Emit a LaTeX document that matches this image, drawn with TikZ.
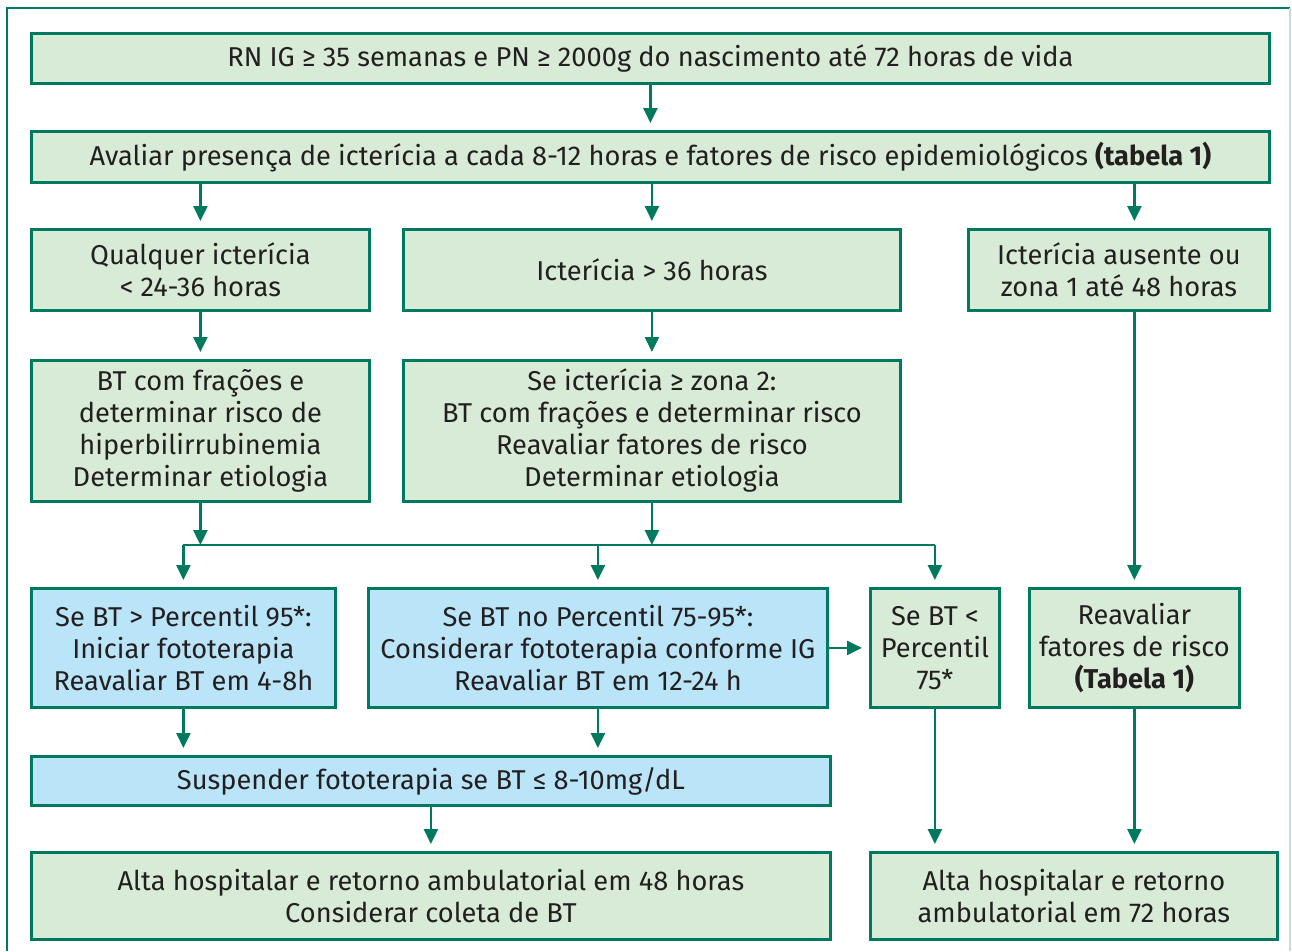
\documentclass[tikz,border=0pt]{standalone}
\usepackage{fontspec}
\setmainfont{Fira Sans}
\usepackage{xcolor}
\usetikzlibrary{calc, positioning, arrows.meta}
\definecolor{flowgreen}{RGB}{0,122,94}
\definecolor{boxgreen}{RGB}{216,235,214}
\definecolor{boxblue}{RGB}{186,228,248}
\definecolor{textgray}{RGB}{35,31,32}
\definecolor{framegray}{RGB}{200,220,212}
\tikzset{
    greenbox/.style={rectangle, draw=flowgreen, line width=1.6pt, fill=boxgreen, align=center, text=textgray, anchor=north west, inner sep=2pt},
    bluebox/.style={greenbox, fill=boxblue},
    size/.style 2 args={minimum width=#1*0.02cm, minimum height=#2*0.02cm},
    arrow/.style={-{Triangle[length=8.5pt, width=8pt]}, draw=flowgreen, line width=1.3pt, shorten >=4pt},
    busline/.style={draw=flowgreen, line width=1.3pt}
}

\begin{document}
\begin{tikzpicture}[x=0.02cm, y=-0.02cm, font=\fontsize{15.5}{18.2}\selectfont]
    \useasboundingbox (0,0) rectangle (1292,951);
    % outer frame
    \draw[flowgreen, line width=1.6pt] (7,951) -- (7,8) -- (1290,8);
    \draw[framegray, line width=0.6pt] (1290,8) -- (1290,951);

    % first rows
    \node[greenbox, size={1238}{50}] (rn) at (30,32) {RN IG ≥ 35 semanas e PN ≥ 2000g do nascimento até 72 horas de vida};
    \node[greenbox, size={1238}{51}] (aval) at (30,130) {Avaliar presença de icterícia a cada 8-12 horas e fatores de risco epidemiológicos \textbf{(tabela 1)}};

    % icterus columns
    \node[greenbox, size={338}{81}] (early) at (30,228) {Qualquer icterícia\\< 24-36 horas};
    \node[greenbox, size={497}{81}] (late) at (402,228) {Icterícia > 36 horas};
    \node[greenbox, size={301}{81}] (absent) at (967,228) {Icterícia ausente ou\\zona 1 até 48 horas};

    \node[greenbox, size={338}{141}] (btearly) at (30,359) {BT com frações e\\determinar risco de\\hiperbilirrubinemia\\Determinar etiologia};
    \node[greenbox, size={497}{141}] (btlate) at (402,359) {Se icterícia ≥ zona 2:\\BT com frações e determinar risco\\Reavaliar fatores de risco\\Determinar etiologia};

    % percentile boxes
    \node[bluebox, size={304}{119}] (p95) at (30,587) {Se BT > Percentil 95*:\\Iniciar fototerapia\\Reavaliar BT em 4-8h};
    \node[bluebox, size={459}{119}] (p75) at (367,587) {Se BT no Percentil 75-95*:\\Considerar fototerapia conforme IG\\Reavaliar BT em 12-24 h};
    \node[greenbox, size={129}{119}] (plow) at (869,587) {Se BT <\\Percentil\\75*};
    \node[greenbox, size={210}{119}] (reav) at (1028,587) {Reavaliar\\fatores de risco\\\textbf{(Tabela 1)}};

    \node[bluebox, size={799}{49}] (susp) at (30,755) {Suspender fototerapia se BT ≤ 8-10mg/dL};

    % discharge
    \node[greenbox, size={799}{87}] (alta48) at (30,851) {Alta hospitalar e retorno ambulatorial em 48 horas\\Considerar coleta de BT};
    \node[greenbox, size={407}{87}] (alta72) at (869,851) {Alta hospitalar e retorno\\ambulatorial em 72 horas};

    % connectors
    \coordinate (bus) at (0,545);
    \draw[arrow] (rn) -- (aval);
    \draw[arrow] (early.north |- aval.south) -- (early.north);
    \draw[arrow] (late.north |- aval.south) -- (late.north);
    \draw[arrow] (reav.north |- aval.south) -- (reav.north |- absent.north);
    \draw[arrow] (early) -- (btearly);
    \draw[arrow] (late) -- (btlate);
    \draw[arrow] (reav.north |- absent.south) -- (reav.north);

    \draw[arrow, shorten >=0pt] (btearly.south) -- (btearly.south |- bus);
    \draw[arrow, shorten >=0pt] (btlate.south) -- (btlate.south |- bus);
    \draw[busline] (p95.north |- bus) -- (plow.north |- bus);
    \draw[arrow] (p95.north |- bus) -- (p95.north);
    \draw[arrow] (p75.north |- bus) -- (p75.north);
    \draw[arrow] (plow.north |- bus) -- (plow.north);

    \draw[arrow] (p75) -- (plow);
    \draw[arrow] (p95.south) -- (p95.south |- susp.north);
    \draw[arrow] (p75.south) -- (p75.south |- susp.north);
    \draw[arrow] (susp) -- (alta48);
    \draw[arrow] (plow.south) -- (plow.south |- alta72.north);
    \draw[arrow] (reav.south) -- (reav.south |- alta72.north);
\end{tikzpicture}
\end{document}
